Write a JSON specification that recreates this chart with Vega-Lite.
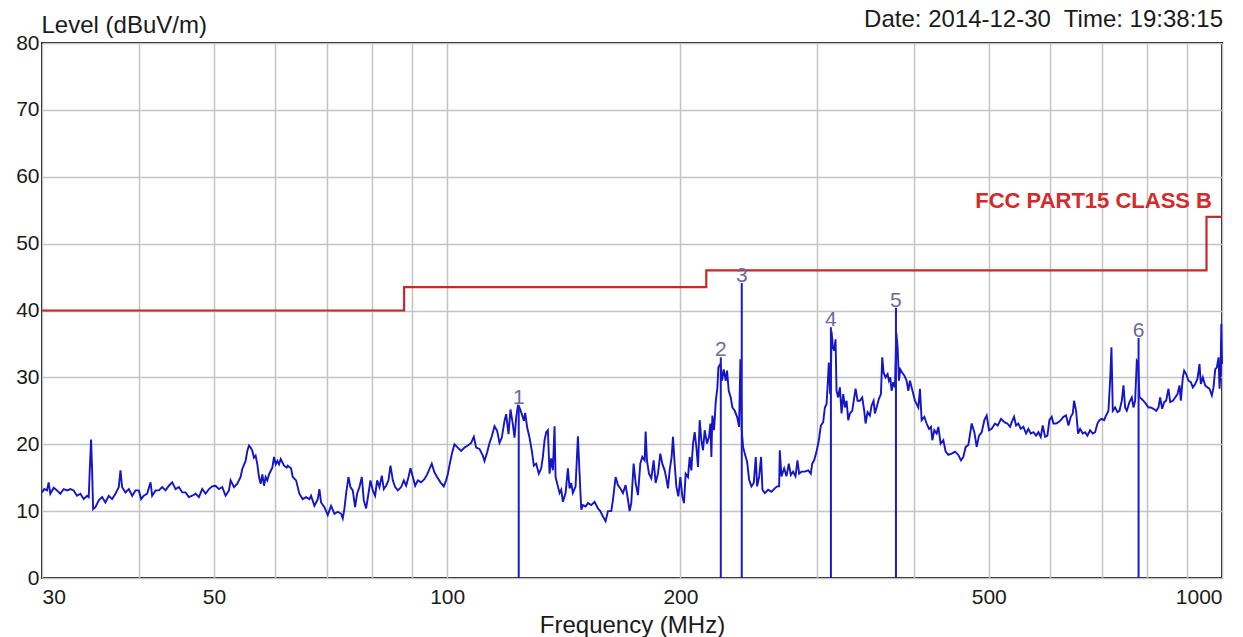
{
  "$schema": "https://vega.github.io/schema/vega-lite/v6.json",
  "width": 1180,
  "height": 535,
  "autosize": {"type": "none"},
  "padding": {"left": 42, "top": 43, "right": 21, "bottom": 59},
  "background": "white",
  "config": {
    "font": "Liberation Sans",
    "view": {"stroke": "#111111", "strokeWidth": 2}
  },
  "datasets": {
    "trace": [
      {"f":30.0,"L":12.8},{"f":30.2,"L":13.3},{"f":30.45,"L":13.1},{"f":30.6,"L":14.3},{"f":30.75,"L":12.6},{"f":31.06,"L":13.5},{"f":31.37,"L":13.1},{"f":31.68,"L":12.6},{"f":32.0,"L":13.3},{"f":32.32,"L":13.1},{"f":32.64,"L":13.3},{"f":32.96,"L":13.1},{"f":33.29,"L":12.3},{"f":33.62,"L":12.6},{"f":33.96,"L":11.8},{"f":34.3,"L":12.3},{"f":34.47,"L":12.1},{"f":34.57,"L":16.0},{"f":34.71,"L":20.7},{"f":34.81,"L":16.5},{"f":34.92,"L":10.3},{"f":35.16,"L":10.6},{"f":35.51,"L":11.6},{"f":35.87,"L":12.1},{"f":36.22,"L":11.3},{"f":36.58,"L":12.3},{"f":36.95,"L":11.8},{"f":37.32,"L":12.6},{"f":37.69,"L":13.6},{"f":37.88,"L":16.1},{"f":38.06,"L":13.6},{"f":38.44,"L":12.8},{"f":38.83,"L":13.3},{"f":39.22,"L":12.3},{"f":39.61,"L":13.1},{"f":40.0,"L":13.1},{"f":40.28,"L":11.8},{"f":40.6,"L":12.3},{"f":41.0,"L":12.6},{"f":41.42,"L":14.3},{"f":41.62,"L":12.3},{"f":42.04,"L":13.1},{"f":42.46,"L":13.1},{"f":42.88,"L":13.6},{"f":43.31,"L":13.1},{"f":43.74,"L":13.8},{"f":44.18,"L":14.3},{"f":44.62,"L":13.3},{"f":45.06,"L":13.6},{"f":45.51,"L":12.8},{"f":45.96,"L":12.8},{"f":46.42,"L":12.1},{"f":46.88,"L":12.3},{"f":47.35,"L":12.6},{"f":47.82,"L":12.1},{"f":48.3,"L":13.3},{"f":48.78,"L":12.6},{"f":49.27,"L":13.3},{"f":49.76,"L":13.7},{"f":50.25,"L":13.8},{"f":50.75,"L":13.3},{"f":51.26,"L":13.6},{"f":51.77,"L":12.3},{"f":52.29,"L":13.1},{"f":52.55,"L":14.6},{"f":53.07,"L":13.6},{"f":53.6,"L":14.1},{"f":54.13,"L":15.1},{"f":54.4,"L":16.3},{"f":54.94,"L":17.5},{"f":55.22,"L":19.0},{"f":55.49,"L":19.8},{"f":55.77,"L":19.5},{"f":56.05,"L":19.0},{"f":56.32,"L":18.0},{"f":56.6,"L":18.3},{"f":56.89,"L":17.0},{"f":57.17,"L":15.1},{"f":57.45,"L":14.1},{"f":57.74,"L":15.5},{"f":58.03,"L":13.8},{"f":58.31,"L":15.1},{"f":58.6,"L":14.6},{"f":58.9,"L":15.5},{"f":59.19,"L":16.0},{"f":59.48,"L":16.5},{"f":59.78,"L":18.1},{"f":60.08,"L":17.0},{"f":60.38,"L":17.5},{"f":60.68,"L":17.0},{"f":60.98,"L":17.8},{"f":61.59,"L":16.8},{"f":62.08,"L":16.5},
      {"f":62.26,"L":16.8},{"f":62.88,"L":16.4},{"f":63.2,"L":15.1},{"f":63.83,"L":14.6},{"f":64.46,"L":12.6},{"f":65.1,"L":11.8},{"f":65.75,"L":12.1},{"f":66.41,"L":11.8},{"f":66.74,"L":12.3},{"f":67.4,"L":10.8},{"f":68.08,"L":11.8},{"f":68.41,"L":13.3},{"f":68.75,"L":11.3},{"f":69.44,"L":10.6},{"f":70.13,"L":9.4},{"f":70.83,"L":10.8},{"f":71.54,"L":9.6},{"f":72.25,"L":9.9},{"f":72.97,"L":9.6},{"f":73.33,"L":8.9},{"f":73.7,"L":10.4},{"f":74.06,"L":12.6},{"f":74.58,"L":15.1},{"f":75.02,"L":13.6},{"f":75.54,"L":13.1},{"f":76.07,"L":10.6},{"f":76.52,"L":12.6},{"f":77.06,"L":13.6},{"f":77.6,"L":15.1},{"f":78.06,"L":11.6},{"f":78.6,"L":10.4},{"f":79.15,"L":12.6},{"f":79.62,"L":14.6},{"f":80.17,"L":13.1},{"f":80.73,"L":12.3},{"f":81.22,"L":14.6},{"f":81.78,"L":13.6},{"f":82.35,"L":15.3},{"f":82.84,"L":13.3},{"f":83.42,"L":13.8},{"f":84.0,"L":14.6},{"f":84.5,"L":16.8},{"f":85.09,"L":14.6},{"f":85.68,"L":13.6},{"f":86.37,"L":13.1},{"f":87.23,"L":13.6},{"f":87.92,"L":14.6},{"f":88.53,"L":13.8},{"f":89.15,"L":15.1},{"f":89.68,"L":16.4},{"f":90.31,"L":15.1},{"f":90.94,"L":13.8},{"f":91.66,"L":14.6},{"f":92.57,"L":14.3},{"f":93.5,"L":14.8},{"f":94.24,"L":15.5},{"f":94.87,"L":16.3},{"f":95.53,"L":17.1},{"f":96.29,"L":15.8},{"f":97.06,"L":15.1},{"f":98.03,"L":14.3},{"f":99.0,"L":13.7},{"f":99.69,"L":14.6},{"f":100.19,"L":15.5},{"f":100.68,"L":16.8},{"f":101.38,"L":18.5},{"f":102.19,"L":20.0},{"f":103.21,"L":19.5},{"f":104.24,"L":19.0},{"f":105.28,"L":19.5},{"f":106.33,"L":19.8},{"f":107.39,"L":20.2},{"f":108.24,"L":21.1},{"f":109.0,"L":19.5},{"f":110.08,"L":19.3},{"f":111.18,"L":18.3},{"f":111.74,"L":17.5},{"f":112.63,"L":18.8},{"f":113.41,"L":20.2},{"f":114.2,"L":21.2},{"f":115.11,"L":22.7},{"f":116.02,"L":22.0},{"f":116.83,"L":20.2},{"f":117.64,"L":21.0},{"f":118.58,"L":23.5},{"f":119.17,"L":24.5},{"f":120.0,"L":21.5},{"f":120.71,"L":25.2},{"f":121.55,"L":23.0},{"f":122.16,"L":21.0},{"f":122.77,"L":24.0},{"f":123.38,"L":25.7},{"f":123.99,"L":25.5},{"f":124.85,"L":24.5},{"f":125.6,"L":23.5},{"f":126.1,"L":24.7},{"f":126.85,"L":22.5},{"f":127.73,"L":21.0},{"f":128.62,"L":19.0},{"f":129.39,"L":16.8},
      {"f":130.29,"L":17.1},{"f":131.33,"L":15.6},{"f":132.25,"L":16.4},{"f":132.9,"L":18.1},{"f":133.57,"L":20.6},{"f":134.23,"L":21.8},{"f":134.9,"L":22.1},{"f":135.57,"L":15.6},{"f":136.24,"L":17.9},{"f":136.92,"L":16.1},{"f":137.6,"L":22.7},{"f":138.01,"L":15.1},{"f":138.97,"L":13.7},{"f":139.66,"L":12.7},{"f":140.36,"L":13.2},{"f":141.05,"L":11.4},{"f":142.18,"L":12.7},{"f":143.17,"L":16.4},{"f":143.88,"L":13.4},{"f":144.59,"L":14.2},{"f":145.31,"L":12.7},{"f":146.47,"L":13.7},{"f":147.49,"L":21.2},{"f":148.22,"L":15.6},{"f":148.96,"L":10.2},{"f":149.7,"L":10.9},{"f":150.89,"L":10.7},{"f":151.94,"L":11.2},{"f":153.46,"L":10.9},{"f":154.98,"L":11.4},{"f":156.53,"L":10.4},{"f":157.62,"L":10.0},{"f":158.87,"L":9.2},{"f":160.14,"L":8.5},{"f":161.25,"L":10.0},{"f":162.86,"L":10.0},{"f":163.67,"L":11.7},{"f":164.97,"L":15.1},{"f":166.12,"L":13.9},{"f":167.28,"L":13.4},{"f":168.61,"L":12.7},{"f":169.95,"L":13.9},{"f":171.14,"L":11.7},{"f":171.99,"L":10.0},{"f":172.84,"L":11.2},{"f":174.05,"L":17.1},{"f":175.08,"L":14.2},{"f":176.3,"L":12.4},{"f":177.53,"L":17.1},{"f":178.59,"L":18.1},{"f":179.83,"L":17.6},{"f":180.37,"L":21.9},{"f":181.08,"L":17.6},{"f":182.16,"L":15.6},{"f":183.43,"L":14.9},{"f":184.71,"L":17.6},{"f":185.81,"L":14.2},{"f":187.1,"L":15.6},{"f":188.41,"L":18.6},{"f":189.53,"L":17.1},{"f":190.85,"L":16.1},{"f":191.8,"L":14.9},{"f":192.75,"L":13.4},{"f":193.71,"L":16.1},{"f":194.86,"L":18.1},{"f":195.64,"L":21.1},{"f":196.61,"L":17.1},{"f":197.59,"L":13.7},{"f":198.77,"L":12.2},{"f":199.96,"L":15.1},{"f":201.15,"L":12.2},{"f":202.15,"L":11.2},{"f":203.15,"L":15.6},{"f":204.57,"L":15.1},{"f":205.59,"L":18.1},{"f":206.61,"L":16.1},{"f":207.64,"L":20.1},{"f":208.67,"L":21.8},{"f":209.71,"L":19.6},{"f":210.75,"L":16.6},{"f":211.8,"L":23.6},{"f":212.85,"L":20.6},{"f":213.91,"L":19.1},{"f":214.97,"L":22.1},{"f":216.47,"L":20.1},{"f":217.76,"L":21.1},{"f":218.63,"L":23.1},{"f":219.28,"L":18.1},{"f":219.93,"L":24.3},{"f":221.03,"L":22.1},{"f":222.12,"L":26.3},{"f":223.23,"L":28.5},{"f":223.9,"L":31.5},{"f":225.23,"L":32.0},{"f":226.35,"L":29.5},{"f":227.48,"L":31.2},{"f":228.84,"L":29.5},{"f":229.74,"L":31.0},{"f":230.88,"L":28.0},{"f":232.26,"L":27.0},{"f":233.42,"L":25.5},{"f":235.04,"L":25.0},{"f":236.68,"L":24.1},{"f":238.09,"L":22.6},{"f":239.04,"L":32.7},{"f":240.0,"L":22.1},{"f":240.95,"L":19.6},{"f":242.15,"L":18.6},{"f":243.84,"L":17.4},{"f":245.3,"L":14.7},{"f":247.0,"L":13.7},{"f":248.72,"L":14.2},{"f":250.21,"L":18.1},{"f":251.2,"L":13.7},{"f":252.7,"L":15.1},{"f":254.2,"L":18.1},{"f":255.22,"L":13.2},{"f":257.0,"L":12.7},{"f":259.55,"L":13.2},{"f":262.14,"L":12.9},{"f":264.76,"L":13.4},{"f":266.6,"L":13.7},{"f":268.19,"L":13.7},
      {"f":268.72,"L":19.1},{"f":270.06,"L":15.2},{"f":272.21,"L":16.4},{"f":274.1,"L":15.2},{"f":276.01,"L":17.1},{"f":277.66,"L":15.4},{"f":279.59,"L":15.9},{"f":281.54,"L":15.2},{"f":283.22,"L":17.6},{"f":284.63,"L":15.6},{"f":286.61,"L":15.9},{"f":289.47,"L":15.9},{"f":292.35,"L":16.1},{"f":294.68,"L":15.6},{"f":295.85,"L":17.1},{"f":297.63,"L":17.6},{"f":299.7,"L":18.9},{"f":301.79,"L":20.6},{"f":303.59,"L":22.8},{"f":305.71,"L":23.3},{"f":307.23,"L":25.5},{"f":308.76,"L":26.0},{"f":309.68,"L":28.5},{"f":310.9,"L":32.2},{"f":312.14,"L":27.5},{"f":312.76,"L":29.0},{"f":313.39,"L":36.9},{"f":314.63,"L":34.5},{"f":315.88,"L":34.0},{"f":317.14,"L":35.7},{"f":318.08,"L":28.0},{"f":319.66,"L":27.0},{"f":321.26,"L":28.5},{"f":322.85,"L":24.6},{"f":324.46,"L":27.5},{"f":326.07,"L":25.5},{"f":327.69,"L":26.5},{"f":329.32,"L":23.6},{"f":330.96,"L":24.6},{"f":333.26,"L":25.0},{"f":335.26,"L":27.0},{"f":336.59,"L":28.3},{"f":338.59,"L":26.5},{"f":340.95,"L":26.5},{"f":343.33,"L":27.0},{"f":345.37,"L":25.0},{"f":346.75,"L":23.1},{"f":348.82,"L":24.8},{"f":351.25,"L":24.3},{"f":353.0,"L":25.8},{"f":355.1,"L":26.5},{"f":356.51,"L":24.6},{"f":358.28,"L":25.5},{"f":360.77,"L":26.8},{"f":362.93,"L":27.5},{"f":364.37,"L":33.0},{"f":365.83,"L":30.7},{"f":368.01,"L":30.0},{"f":370.21,"L":30.5},{"f":371.67,"L":29.5},{"f":373.14,"L":30.0},{"f":374.63,"L":28.0},{"f":376.49,"L":29.3},{"f":378.37,"L":28.5},{"f":379.87,"L":36.7},{"f":381.38,"L":34.5},{"f":382.89,"L":29.5},{"f":384.41,"L":31.2},{"f":386.71,"L":30.7},{"f":389.01,"L":30.3},{"f":391.73,"L":29.5},{"f":393.67,"L":28.0},{"f":395.63,"L":29.5},{"f":397.6,"L":28.5},{"f":399.57,"L":27.5},{"f":401.56,"L":26.5},{"f":403.56,"L":26.0},{"f":405.57,"L":25.5},{"f":407.58,"L":28.3},{"f":409.61,"L":23.6},{"f":412.87,"L":24.1},{"f":415.75,"L":23.1},{"f":418.64,"L":22.3},{"f":421.14,"L":22.6},{"f":422.81,"L":20.6},{"f":425.33,"L":22.1},{"f":428.3,"L":21.6},{"f":430.42,"L":22.6},{"f":433.42,"L":20.1},{"f":436.87,"L":20.6},{"f":439.91,"L":18.9},{"f":443.41,"L":18.4},{"f":447.83,"L":18.6},{"f":452.3,"L":18.9},{"f":456.8,"L":18.4},{"f":460.44,"L":17.6},{"f":463.64,"L":18.1},{"f":466.88,"L":19.6},{"f":470.59,"L":19.9},{"f":475.28,"L":23.1},{"f":479.06,"L":21.8},{"f":482.4,"L":19.6},{"f":485.76,"L":21.3},{"f":489.63,"L":21.8},{"f":493.52,"L":23.6},{"f":496.96,"L":24.3},{"f":500.43,"L":22.1},{"f":504.42,"L":22.3},{"f":509.43,"L":23.1},{"f":513.5,"L":22.8},{"f":518.62,"L":23.8},{"f":523.79,"L":23.3},
      {"f":528.48,"L":23.1},{"f":532.68,"L":22.6},{"f":535.34,"L":23.3},{"f":539.06,"L":24.1},{"f":542.28,"L":22.8},{"f":546.05,"L":23.1},{"f":549.86,"L":22.3},{"f":554.23,"L":22.6},{"f":558.65,"L":21.6},{"f":562.53,"L":22.3},{"f":566.45,"L":21.6},{"f":570.95,"L":21.8},{"f":575.5,"L":21.3},{"f":579.5,"L":21.8},{"f":583.54,"L":21.1},{"f":587.02,"L":22.8},{"f":591.1,"L":21.1},{"f":595.22,"L":21.3},{"f":598.76,"L":23.6},{"f":602.94,"L":24.1},{"f":605.93,"L":23.1},{"f":610.76,"L":23.1},{"f":615.01,"L":23.3},{"f":619.3,"L":23.6},{"f":624.22,"L":24.1},{"f":629.19,"L":24.3},{"f":633.57,"L":22.8},{"f":637.98,"L":24.1},{"f":641.78,"L":24.6},{"f":644.33,"L":26.5},{"f":648.18,"L":25.0},{"f":652.04,"L":21.6},{"f":655.94,"L":22.3},{"f":661.16,"L":21.6},{"f":665.75,"L":21.8},{"f":670.39,"L":21.3},{"f":675.72,"L":22.1},{"f":681.1,"L":21.6},{"f":685.84,"L":21.8},{"f":690.62,"L":23.1},{"f":694.74,"L":23.6},{"f":699.58,"L":23.8},{"f":704.45,"L":23.6},{"f":708.65,"L":24.3},{"f":713.59,"L":25.0},{"f":717.13,"L":29.5},{"f":720.0,"L":34.5},{"f":722.86,"L":25.0},{"f":727.88,"L":25.5},{"f":732.95,"L":24.8},{"f":737.32,"L":25.0},{"f":742.46,"L":26.5},{"f":746.15,"L":28.8},{"f":749.85,"L":25.5},{"f":753.58,"L":25.0},{"f":759.58,"L":26.3},{"f":764.87,"L":27.0},{"f":768.67,"L":25.5},{"f":772.48,"L":26.5},{"f":776.33,"L":32.5},{"f":779.41,"L":32.2},{"f":782.5,"L":27.0},{"f":787.17,"L":26.8},{"f":791.87,"L":26.5},{"f":798.16,"L":26.0},{"f":803.72,"L":25.5},{"f":809.31,"L":25.5},{"f":815.76,"L":25.3},{"f":822.25,"L":25.0},{"f":827.98,"L":25.5},{"f":832.09,"L":27.0},{"f":837.07,"L":25.3},{"f":842.06,"L":26.3},{"f":847.08,"L":26.5},{"f":852.98,"L":28.3},{"f":857.22,"L":26.3},{"f":864.05,"L":26.5},{"f":870.06,"L":27.0},{"f":876.13,"L":27.5},{"f":881.36,"L":28.8},{"f":884.87,"L":26.5},{"f":890.14,"L":30.0},{"f":893.67,"L":31.0},{"f":898.99,"L":30.5},{"f":905.26,"L":29.5},{"f":911.56,"L":29.3},{"f":917.0,"L":28.5},{"f":923.39,"L":29.0},{"f":929.82,"L":29.8},{"f":935.36,"L":32.0},{"f":939.08,"L":29.0},{"f":944.69,"L":30.0},{"f":951.26,"L":28.8},{"f":957.89,"L":28.5},{"f":963.59,"L":28.3},{"f":970.31,"L":27.3},{"f":975.13,"L":28.5},{"f":979.97,"L":31.2},{"f":984.85,"L":31.5},{"f":989.74,"L":33.0},{"f":992.68,"L":28.3},{"f":995.63,"L":31.0},{"f":998.0,"L":38.0},{"f":1000.0,"L":32.0}
    ],
    "limit": [
      {"f":30,"L":40},{"f":88,"L":43.5},{"f":216,"L":46},{"f":955,"L":54},{"f":1000,"L":54}
    ],
    "markers": [
      {"f":123.7,"L":25.9,"n":"1"},{"f":225.5,"L":33.0,"n":"2"},{"f":240.0,"L":44.1,"n":"3"},{"f":312.8,"L":37.5,"n":"4"},{"f":379.5,"L":40.4,"n":"5"},{"f":780.4,"L":35.9,"n":"6"}
    ],
    "limitLabel": [
      {"f":1000,"L":56.3,"text":"FCC PART15 CLASS B"}
    ],
    "stamp": [
      {"f":1000,"L":80,"text":"Date: 2014-12-30\u00a0 Time: 19:38:15"}
    ]
  },
  "encoding": {
    "x": {
      "field": "f", "type": "quantitative",
      "scale": {"type": "log", "domain": [30, 1000], "nice": false},
      "axis": {
        "values": [30,40,50,60,70,80,90,100,200,300,400,500,600,700,800,900,1000],
        "format": "d",
        "labelExpr": "indexof([30,50,100,200,500,1000], datum.value) >= 0 ? datum.label : ''",
        "labelOverlap": false,
        "labelFlush": true,
        "labelBound": false,
        "grid": true, "gridColor": "#c4c4c4", "gridWidth": 1.5,
        "ticks": false, "domain": false,
        "labelFontSize": 21, "labelColor": "#1a1a1a", "labelPadding": 8,
        "title": "Frequency (MHz)", "titleFontSize": 24, "titleFontWeight": "normal",
        "titleColor": "#1a1a1a", "titlePadding": 6
      }
    },
    "y": {
      "field": "L", "type": "quantitative",
      "scale": {"domain": [0, 80], "nice": false},
      "axis": {
        "values": [0,10,20,30,40,50,60,70,80],
        "grid": true, "gridColor": "#c4c4c4", "gridWidth": 1.5,
        "ticks": false, "domain": false,
        "labelFontSize": 21, "labelColor": "#1a1a1a", "labelPadding": 3,
        "title": "Level (dBuV/m)", "titleAngle": 0, "titleAlign": "left",
        "titleBaseline": "middle", "titleX": -1, "titleY": -18,
        "titleFontSize": 24, "titleFontWeight": "normal", "titleColor": "#1a1a1a"
      }
    }
  },
  "layer": [
    {
      "data": {"name": "limit"},
      "mark": {"type": "line", "interpolate": "step-after", "color": "#c8282a", "strokeWidth": 2.2}
    },
    {
      "data": {"name": "trace"},
      "mark": {"type": "line", "color": "#1414c8", "strokeWidth": 1.9}
    },
    {
      "data": {"name": "markers"},
      "mark": {"type": "rule", "color": "#1a1acc", "strokeWidth": 2},
      "encoding": {"y2": {"datum": 0}}
    },
    {
      "data": {"name": "markers"},
      "mark": {"type": "text", "color": "#6a6a9c", "fontSize": 21, "baseline": "alphabetic", "dy": -1},
      "encoding": {"text": {"field": "n"}}
    },
    {
      "data": {"name": "limitLabel"},
      "mark": {"type": "text", "color": "#d42a2a", "fontSize": 22, "fontWeight": "bold", "align": "right", "baseline": "middle", "dx": -10},
      "encoding": {"text": {"field": "text"}}
    },
    {
      "data": {"name": "stamp"},
      "mark": {"type": "text", "color": "#1a1a1a", "fontSize": 24, "align": "right", "baseline": "middle", "dy": -23, "dx": 1},
      "encoding": {"text": {"field": "text"}}
    }
  ]
}
